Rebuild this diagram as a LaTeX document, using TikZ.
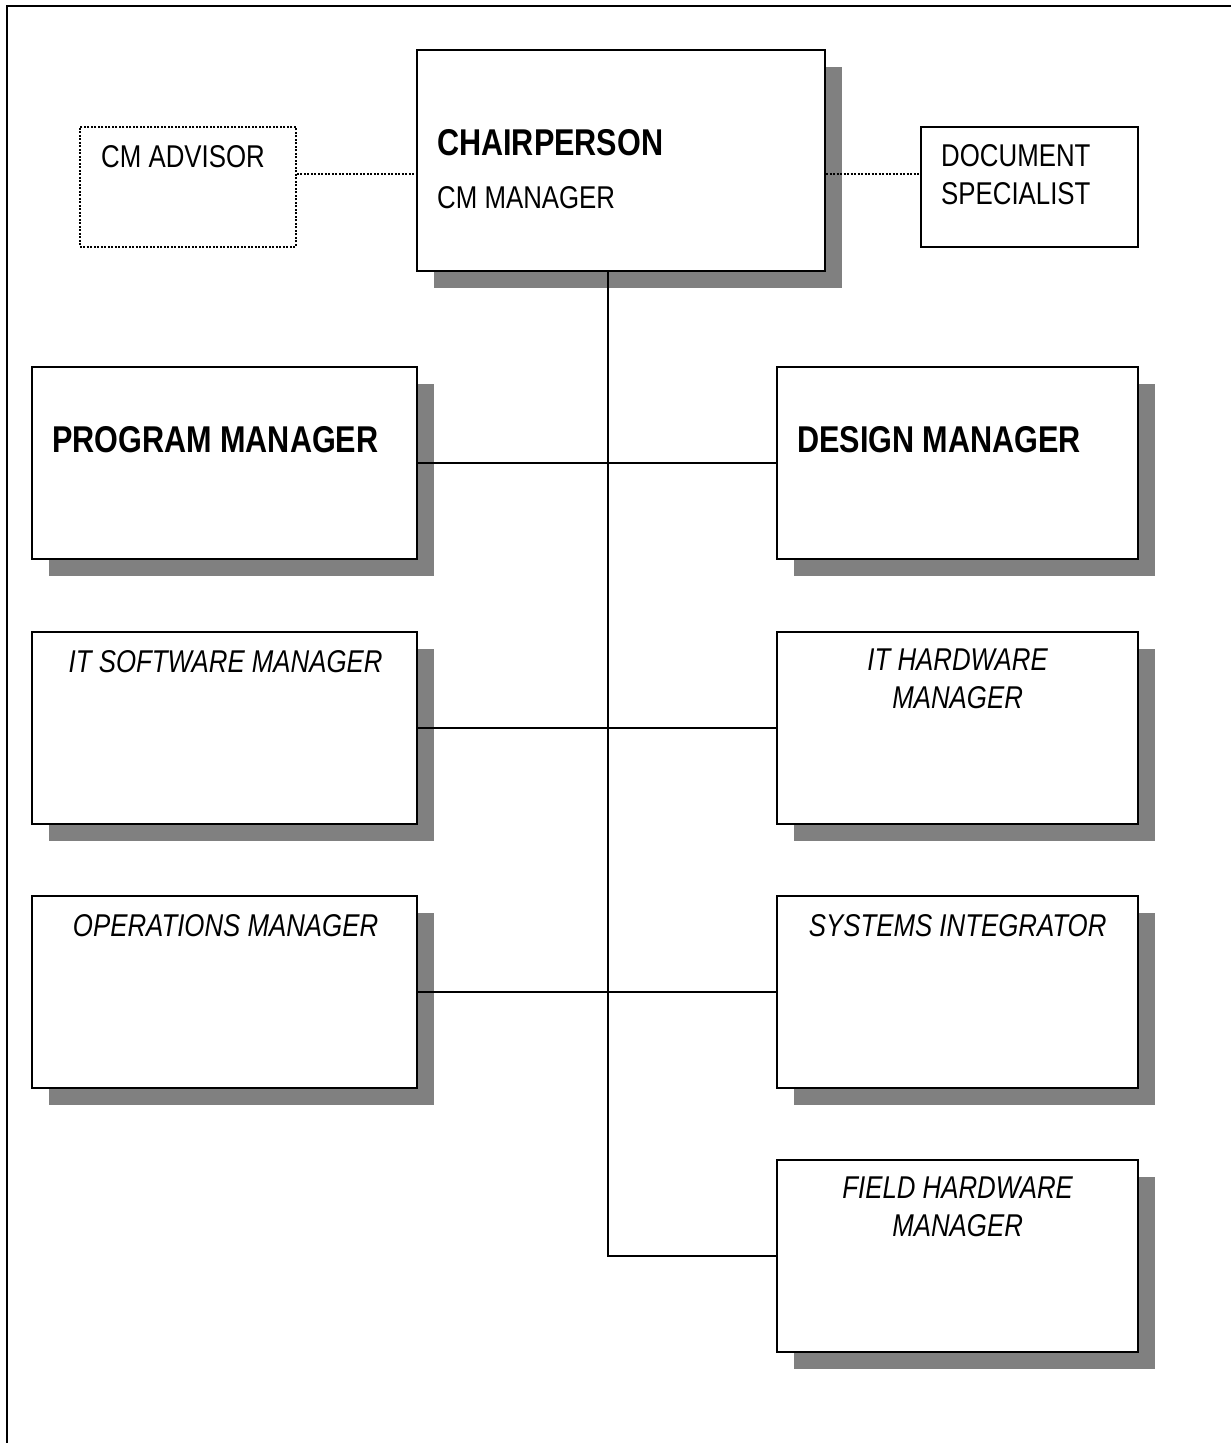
\documentclass[tikz,border=0pt]{standalone}
\usepackage{fontspec}
\setmainfont{Liberation Sans}[FakeStretch=0.82]
\usetikzlibrary{shadows}

\tikzset{
  orgbox/.style={draw, line width=2.2pt, fill=white, anchor=north west, inner sep=0pt,
    drop shadow={shadow xshift=17pt, shadow yshift=-17pt, fill=black!50, opacity=1}},
  sidebox/.style={draw, line width=1.6pt, fill=white, anchor=north west, inner sep=0pt},
  txt/.style={inner sep=0pt, align=left, font=\fontsize{31.5}{38}\selectfont},
  bigtxt/.style={inner sep=0pt, font=\fontsize{37.3}{45}\selectfont\bfseries},
  ittxt/.style={inner sep=0pt, align=center, font=\fontsize{31.5}{37.5}\selectfont\itshape},
  link/.style={line width=1.6pt},
  dotlink/.style={line width=1.8pt, dash pattern=on 2pt off 1.5pt},
}

\begin{document}
\begin{tikzpicture}[x=1pt, y=-1pt]
  \useasboundingbox (0,0) rectangle (1231,1443);
  % page frame
  \draw[line width=2pt] (7,1443) -- (7,6) -- (1231,6);

  % top row
  \node[orgbox, minimum width=408pt, minimum height=221pt] (chair) at (416,49) {};
  \node[sidebox, line width=1.8pt, dash pattern=on 2pt off 1.5pt, minimum width=216pt, minimum height=120pt] (adv) at (79,126) {};
  \node[sidebox, minimum width=217pt, minimum height=120pt] (doc) at (920,126) {};

  \node[bigtxt, anchor=base west] (chair-t) at ([shift={(21,106)}]chair.north west) {CHAIRPERSON};
  \node[txt, anchor=base west] (chair-s) at ([shift={(21,159)}]chair.north west) {CM MANAGER};
  \node[txt, anchor=base west] (adv-t) at ([shift={(22,41)}]adv.north west) {CM ADVISOR};
  \node[txt, anchor=north west] (doc-t) at ([shift={(21,18)}]doc.north west) {DOCUMENT\\SPECIALIST};

  % left column
  \node[orgbox, minimum width=385pt, minimum height=192pt] (prog) at (31,366) {};
  \node[orgbox, minimum width=385pt, minimum height=192pt] (itsw) at (31,631) {};
  \node[orgbox, minimum width=385pt, minimum height=192pt] (ops) at (31,895) {};

  % right column
  \node[orgbox, minimum width=361pt, minimum height=192pt] (dsgn) at (776,366) {};
  \node[orgbox, minimum width=361pt, minimum height=192pt] (ithw) at (776,631) {};
  \node[orgbox, minimum width=361pt, minimum height=192pt] (sysi) at (776,895) {};
  \node[orgbox, minimum width=361pt, minimum height=192pt] (fldhw) at (776,1159) {};

  \node[bigtxt, anchor=base west] (prog-t) at ([shift={(21,86)}]prog.north west) {PROGRAM MANAGER};
  \node[bigtxt, anchor=base west] (dsgn-t) at ([shift={(21,86)}]dsgn.north west) {DESIGN MANAGER};
  \node[ittxt, anchor=base] (itsw-t) at ([shift={(1,41)}]itsw.north) {IT SOFTWARE MANAGER};
  \node[ittxt, anchor=base] (ops-t) at ([shift={(1,41)}]ops.north) {OPERATIONS MANAGER};
  \node[ittxt, anchor=north] (ithw-t) at ([shift={(0,18)}]ithw.north) {IT HARDWARE\\MANAGER};
  \node[ittxt, anchor=base] (sysi-t) at ([shift={(0,41)}]sysi.north) {SYSTEMS INTEGRATOR};
  \node[ittxt, anchor=north] (fldhw-t) at ([shift={(0,18)}]fldhw.north) {FIELD HARDWARE\\MANAGER};

  % connectors
  \coordinate (dl) at (0,174);
  \coordinate (trunk) at (608,0);
  \draw[dotlink] (adv.east |- dl) -- (chair.west |- dl);
  \draw[dotlink] (chair.east |- dl) -- (doc.west |- dl);
  \draw[link] (chair.south -| trunk) |- (fldhw.west);
  \draw[link] (prog.east) -- (dsgn.west);
  \draw[link] (itsw.east) -- (ithw.west);
  \draw[link] (ops.east) -- (sysi.west);
\end{tikzpicture}
\end{document}
